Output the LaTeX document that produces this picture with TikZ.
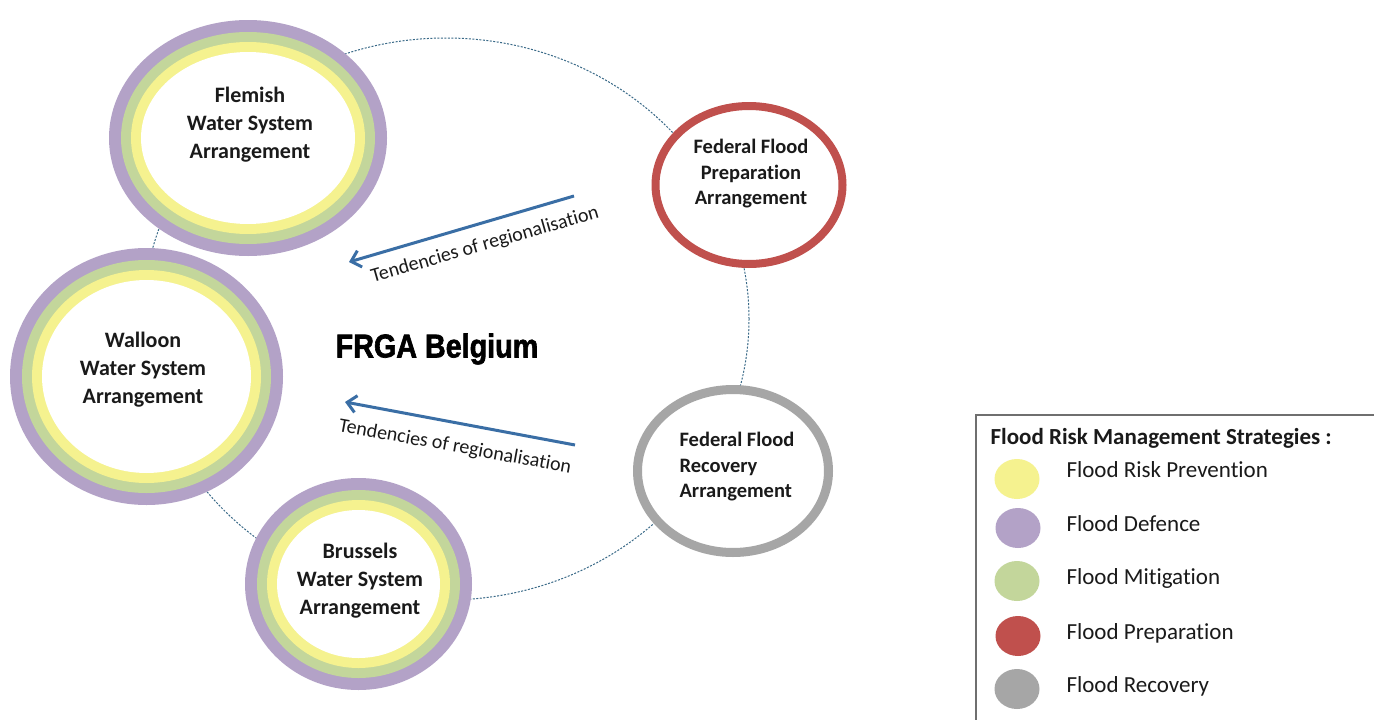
\documentclass[tikz,border=0pt]{standalone}
\usepackage{fontspec}
\setmainfont{Carlito}[Ligatures=NoCommon]
\newfontfamily\impactfont{Liberation Sans}[BoldFeatures={FakeBold=2}]
\usetikzlibrary{shapes.geometric,arrows.meta}
\definecolor{fdef}{HTML}{B3A2C7}
\definecolor{fmit}{HTML}{C3D69B}
\definecolor{fprev}{HTML}{F5F28F}
\definecolor{fprep}{HTML}{C0504D}
\definecolor{frec}{HTML}{A6A6A6}
\definecolor{arrowblue}{HTML}{3A6EA5}
\definecolor{dotline}{HTML}{3A6A88}
\definecolor{txt}{HTML}{1A1A1A}
\definecolor{legborder}{HTML}{6F6F6F}
\tikzset{
  ring/.style={ellipse, inner sep=0pt, outer sep=0pt},
  wslabel/.style={align=center, font=\fontsize{22}{28}\selectfont\bfseries, text=txt},
  fedlabel/.style={font=\fontsize{20.5}{25.5}\selectfont\bfseries, text=txt},
  trend/.style={-{Straight Barb[length=9pt,width=17pt]}, draw=arrowblue, line width=3pt},
  trendlabel/.style={font=\fontsize{20}{22}\selectfont, text=txt, inner sep=1pt},
  legcircle/.style={ellipse, minimum width=45, minimum height=40, inner sep=0pt},
  legtext/.style={anchor=west, font=\fontsize{23}{26}\selectfont, text=txt},
}
\newcommand\wsnode[4]{%
  \node[ring, fill=fdef, minimum width={2*#3}, minimum height={2*#4}] (#1) at #2 {};
  \node[ring, fill=fmit, minimum width={2*#3-24}, minimum height={2*#4-24}] (#1-m) at #2 {};
  \node[ring, fill=fprev, minimum width={2*#3-44}, minimum height={2*#4-44}] (#1-y) at #2 {};
  \node[ring, fill=white, minimum width={2*#3-64}, minimum height={2*#4-64}] (#1-w) at #2 {};
}
\begin{document}
\begin{tikzpicture}[x=1pt,y=-1pt]
\useasboundingbox[fill=white] (0,0) rectangle (1374,720);
% big dotted ellipse
\node[ring, draw=dotline, line width=1pt, dash pattern=on 2pt off 1.5pt,
      minimum width=606, minimum height=562] (frga) at (446,319) {};
% water system arrangements
\wsnode{flem}{(248,138)}{139}{118}
\wsnode{wall}{(146.5,376.5)}{136.5}{128.5}
\wsnode{brus}{(358.5,584)}{113.5}{106}
\node[wslabel] (flemt) at (250,125) {Flemish\\Water System\\Arrangement};
\node[wslabel] (wallt) at (143,370) {Walloon\\Water System\\Arrangement};
\node[wslabel] (brust) at (360,581) {Brussels\\Water System\\Arrangement};
% federal arrangements
\node[ring, draw=fprep, fill=white, line width=8pt, minimum width=187, minimum height=158] (prep) at (749,185) {};
\node[ring, draw=frec, fill=white, line width=9pt, minimum width=191, minimum height=163] (reco) at (733,471) {};
\node[fedlabel, align=center] (prept) at (751,174) {Federal Flood\\Preparation\\Arrangement};
\node[fedlabel, align=left] (recot) at (737,467) {Federal Flood\\Recovery\\Arrangement};
% centre title
\node[font=\impactfont\fontsize{33}{36}\selectfont\bfseries, text=black, inner sep=0pt] (title) at (437,349)
  {\scalebox{0.87}[1]{FRGA Belgium}};
% regionalisation arrows
\coordinate (t1s) at (574,196);
\coordinate (t1e) at (349,262);
\coordinate (t2s) at (575,445);
\coordinate (t2e) at (345,402);
\draw[trend] (t1s) -- (t1e);
\draw[trend] (t2s) -- (t2e);
\node[trendlabel, rotate=16] (t1l) at (485,245) {Tendencies of regionalisation};
\node[trendlabel, rotate=-10.3] (t2l) at (455,447) {Tendencies of regionalisation};
% legend
\draw[legborder, line width=2pt] (976,415) rectangle (1400,740);
\node[anchor=west, font=\fontsize{23}{26}\selectfont\bfseries, text=txt] (legtitle) at (987,438) {Flood Risk Management Strategies :};
\node[legcircle, fill=fprev] (lc1) at (1017,479) {};
\node[legcircle, fill=fdef]  (lc2) at (1018,528) {};
\node[legcircle, fill=fmit]  (lc3) at (1017,581) {};
\node[legcircle, fill=fprep] (lc4) at (1018,636) {};
\node[legcircle, fill=frec]  (lc5) at (1017,689) {};
\node[legtext] (lt1) at (1063,470) {Flood Risk Prevention};
\node[legtext] (lt2) at (1063,524) {Flood Defence};
\node[legtext] (lt3) at (1063,578) {Flood Mitigation};
\node[legtext] (lt4) at (1063,633) {Flood Preparation};
\node[legtext] (lt5) at (1063,686) {Flood Recovery};
\end{tikzpicture}
\end{document}
